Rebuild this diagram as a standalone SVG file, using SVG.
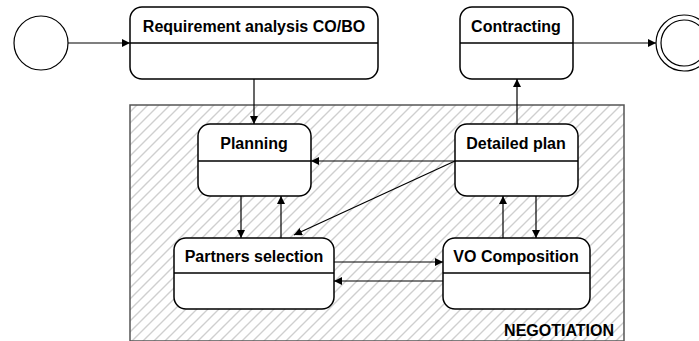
<svg xmlns="http://www.w3.org/2000/svg" width="699" height="341" viewBox="0 0 699 341">
<style>
.st{fill:#fff;stroke:#000;stroke-width:1.5}
.dv{stroke:#000;stroke-width:1.5}
.lbl{font-family:"Liberation Sans",Arial,sans-serif;font-weight:bold;font-size:16px;fill:#000;text-anchor:middle}
.cn{fill:none;stroke:#000;stroke-width:1.2}
</style>
<defs>
<pattern id="hatch" patternUnits="userSpaceOnUse" width="11" height="11">
<path d="M-2,2 L2,-2 M0,11 L11,0 M9,13 L13,9" stroke="#cfcfcf" stroke-width="1.4"/>
</pattern>
<marker id="ah" viewBox="0 0 10 10" refX="10" refY="5" markerWidth="8" markerHeight="8" markerUnits="userSpaceOnUse" orient="auto">
<path d="M0,0 L10,5 L0,10 Z" fill="#000"/>
</marker>
</defs>
<g id="negotiation">
<rect x="130" y="105" width="494" height="236" fill="url(#hatch)" stroke="#555" stroke-width="1.5"/>
<text x="614" y="336" class="lbl" style="text-anchor:end">NEGOTIATION</text>
</g>
<g id="initial"><circle cx="41" cy="43" r="27" fill="#fff" stroke="#000" stroke-width="1.2"/></g>
<g id="final"><circle cx="684" cy="43" r="28" fill="#fff" stroke="#000" stroke-width="1.2"/><circle cx="684" cy="43" r="23" fill="#fff" stroke="#000" stroke-width="1.2"/></g>
<g id="requirement"><rect class="st" x="130" y="7" width="248" height="72" rx="12"/><line class="dv" x1="130" y1="43" x2="378" y2="43"/><text class="lbl" x="254" y="32">Requirement analysis CO/BO</text></g>
<g id="contracting"><rect class="st" x="460" y="7" width="113" height="72" rx="12"/><line class="dv" x1="460" y1="43" x2="573" y2="43"/><text class="lbl" x="516" y="32">Contracting</text></g>
<g id="planning"><rect class="st" x="198" y="124" width="113" height="72" rx="12"/><line class="dv" x1="198" y1="161" x2="311" y2="161"/><text class="lbl" x="254" y="149">Planning</text></g>
<g id="detailed"><rect class="st" x="455" y="124" width="123" height="72" rx="12"/><line class="dv" x1="455" y1="161" x2="578" y2="161"/><text class="lbl" x="516" y="149">Detailed plan</text></g>
<g id="partners"><rect class="st" x="174" y="238" width="160" height="71" rx="12"/><line class="dv" x1="174" y1="273" x2="334" y2="273"/><text class="lbl" x="254" y="262">Partners selection</text></g>
<g id="vo"><rect class="st" x="443" y="238" width="147" height="71" rx="12"/><line class="dv" x1="443" y1="273" x2="590" y2="273"/><text class="lbl" x="516" y="262">VO Composition</text></g>
<g id="connectors">
<line class="cn" x1="68" y1="43" x2="130" y2="43" marker-end="url(#ah)"/>
<line class="cn" x1="573" y1="43" x2="656" y2="43" marker-end="url(#ah)"/>
<line class="cn" x1="254" y1="79" x2="254" y2="124" marker-end="url(#ah)"/>
<line class="cn" x1="517" y1="124" x2="517" y2="79" marker-end="url(#ah)"/>
<line class="cn" x1="455" y1="161" x2="311" y2="161" marker-end="url(#ah)"/>
<line class="cn" x1="455" y1="161" x2="294" y2="235" marker-end="url(#ah)"/>
<line class="cn" x1="241" y1="196" x2="241" y2="238" marker-end="url(#ah)"/>
<line class="cn" x1="281" y1="238" x2="281" y2="196" marker-end="url(#ah)"/>
<line class="cn" x1="503" y1="238" x2="503" y2="196" marker-end="url(#ah)"/>
<line class="cn" x1="536" y1="196" x2="536" y2="238" marker-end="url(#ah)"/>
<line class="cn" x1="334" y1="262" x2="443" y2="262" marker-end="url(#ah)"/>
<line class="cn" x1="443" y1="281" x2="334" y2="281" marker-end="url(#ah)"/>
</g>
</svg>
